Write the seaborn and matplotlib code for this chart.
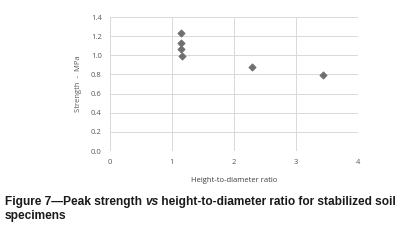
import numpy as np
import pandas as pd
import matplotlib
matplotlib.use("Agg")
import matplotlib.pyplot as plt
import seaborn as sns

# values
ratio = [1.15, 1.15, 1.14, 1.16, 2.29, 3.43]
strength = [1.23, 1.13, 1.07, 0.99, 0.88, 0.79]
xticks = [0, 1, 2, 3, 4]
yticks = [0.0, 0.2, 0.4, 0.6, 0.8, 1.0, 1.2, 1.4]

df = pd.DataFrame({"ratio": ratio, "strength": strength})

sns.set_style("white")
plt.rcParams["font.family"] = ["Open Sans", "DejaVu Sans"]

fig = plt.figure(figsize=(4.12, 2.41), dpi=100)
ax = fig.add_axes([110 / 412, 1 - 151 / 241, 248 / 412, 134 / 241])

sns.scatterplot(data=df, x="ratio", y="strength", ax=ax, marker="D",
                s=14, color="#6f6f6f", edgecolor="#6f6f6f", linewidth=0.5, zorder=3)

ax.set_xlim(0, 4)
ax.set_ylim(0, 1.4)
ax.set_xticks(xticks)
ax.set_yticks(yticks)
ax.set_xticklabels([str(t) for t in xticks])
ax.set_yticklabels([f"{t:.1f}" for t in yticks])
ax.grid(True, color="#d9d9d9", linewidth=0.7)
for s in ax.spines.values():
    s.set_visible(False)
ax.tick_params(length=0, labelsize=5.5, labelcolor="#595959", pad=6)
ax.set_xlabel("Height-to-diameter ratio", fontsize=5.5, color="#404040", labelpad=8)
ax.set_ylabel("Strength  -  MPa", fontsize=5.5, color="#595959", labelpad=6)

# caption with bold text and bold-italic "vs"
fig.canvas.draw()
r = fig.canvas.get_renderer()
cap = dict(fontsize=8.6, fontweight="bold", family=["Liberation Sans"], color="#1a1a1a",
           va="center", ha="left")
x0 = 5 / 412
y1 = 1 - 202 / 241
parts = [("Figure 7\u2014Peak strength ", "normal"), ("vs", "italic"),
         (" height-to-diameter ratio for stabilized soil", "normal")]
x = x0
for txt, style in parts:
    t = fig.text(x, y1, txt, style=style, **cap)
    bb = t.get_window_extent(renderer=r)
    x += bb.width / fig.bbox.width
fig.text(x0, 1 - 216 / 241, "specimens", **cap)

fig.savefig("out.png", dpi=100)
